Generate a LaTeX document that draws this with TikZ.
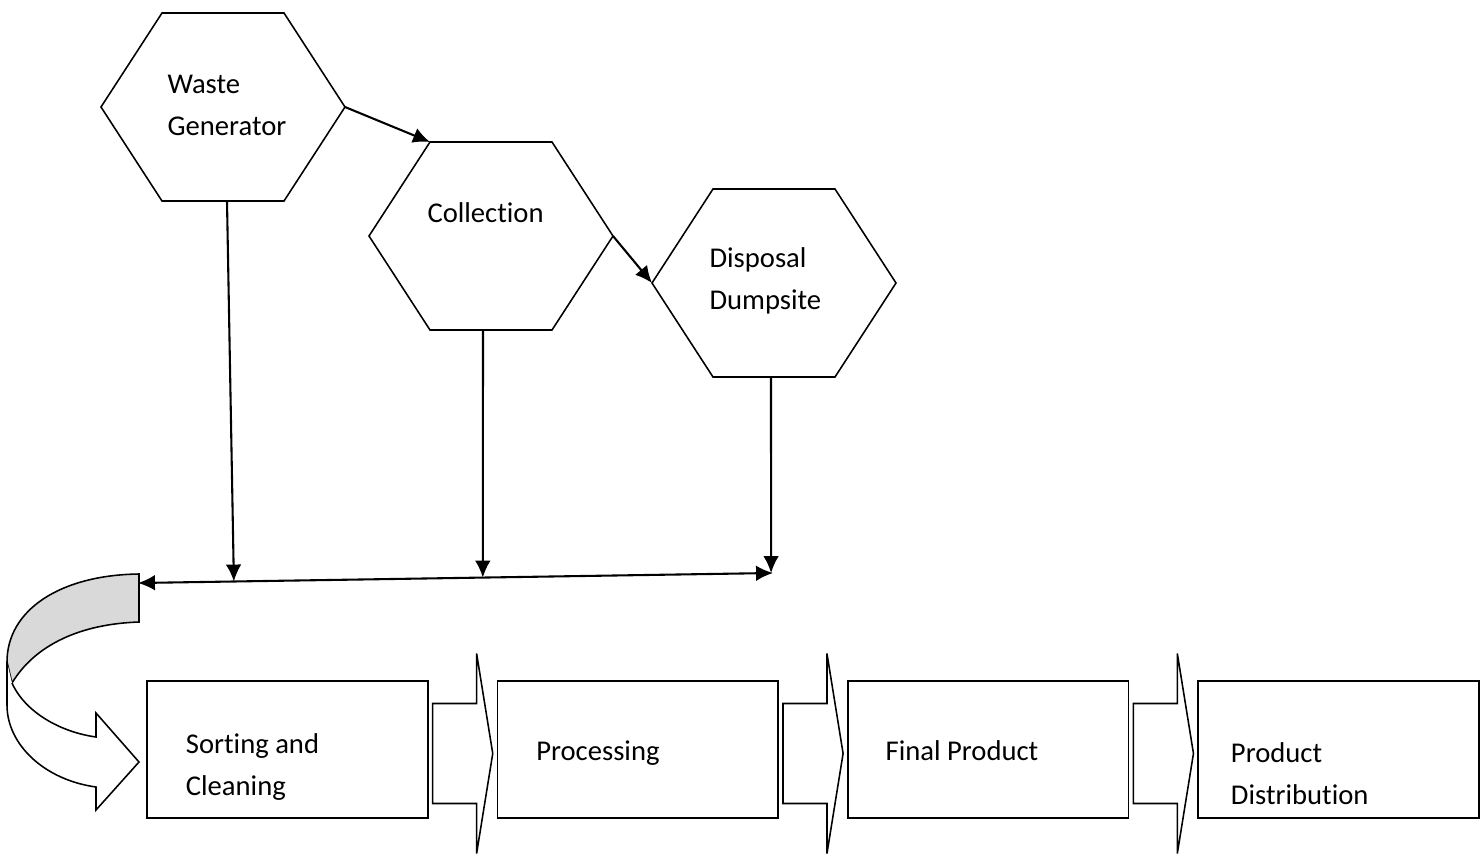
\documentclass[tikz,border=0pt]{standalone}
\usepackage{fontspec}
\setmainfont{Carlito}[Ligatures=NoCommon]
\usetikzlibrary{arrows.meta, calc, positioning}
\definecolor{bandgray}{HTML}{D9D9D9}
\tikzset{
  hexline/.style={line width=0.6pt},
  conn/.style={line width=0.8pt, -{Latex[length=6.5pt,width=6pt]}},
  procbox/.style={draw, line width=0.6pt, minimum width=3.79cm, minimum height=1.85cm, inner sep=0pt},
  lbl/.style={inner sep=0pt, align=left, font=\fontsize{11pt}{16pt}\selectfont},
  blockarrow/.style={draw, fill=white, line width=0.6pt},
  hexa/.pic={
    \draw[hexline] (-122,0) coordinate (-w) -- (-61,-94) coordinate (-tl)
      -- (61,-94) coordinate (-tr) -- (122,0) coordinate (-e)
      -- (61,94) coordinate (-br) -- (-61,94) coordinate (-bl) -- cycle;
    \coordinate (-b) at (0,94);
  }
}

\begin{document}
\begin{tikzpicture}[x=0.0135cm, y=-0.0135cm]
  \useasboundingbox (0,0) rectangle (1484,859);

  % waste stages
  \pic (wg) at (223,107) {hexa};
  \pic (col) at (491,236) {hexa};
  \pic (dis) at (774,283) {hexa};
  \node[lbl, anchor=base west] (wgtext) at (167,135) {Waste\\Generator};
  \node[lbl, anchor=base west] (coltext) at (427,222) {Collection};
  \node[lbl, anchor=base west] (distext) at (709,309) {Disposal\\Dumpsite};

  \draw[conn] (wg-e) -- (col-tl);
  \draw[conn] (col-e) -- (dis-w);

  % collecting line
  \coordinate (hl-w) at (138,583);
  \coordinate (hl-e) at (773,573);
  \draw[conn, {Latex[length=6.5pt,width=6pt]}-{Latex[length=6.5pt,width=6pt]}] (hl-w) -- (hl-e);
  \draw[conn] ($(wg-b)+(4,0)$) -- ($(hl-w)!0.151!(hl-e)$);
  \draw[conn] ($(col-b)+(-8,0)$) -- ($(hl-w)!0.543!(hl-e)$);
  \draw[conn] ($(dis-b)+(-3,0)$) -- ($(hl-w)!0.997!(hl-e)$);

  % u-turn arrow
  \draw[hexline, fill=bandgray] (139,574) .. controls (60,575) and (7,610) .. (7,662)
    -- (12,683) .. controls (35,645) and (80,624) .. (139,622) -- cycle;
  \fill[white] (7,662) -- (7,705) .. controls (7,745) and (45,780) .. (96,787)
    -- (96,810) -- (139,762) -- (96,713) -- (96,737)
    .. controls (60,732) and (25,712) .. (12,683) -- cycle;
  \draw[hexline] (7,662) -- (7,705) .. controls (7,745) and (45,780) .. (96,787)
    -- (96,810) -- (139,762) -- (96,713) -- (96,737)
    .. controls (60,732) and (25,712) .. (12,683);

  % process chain
  \node[procbox] (sort) at (287.5,749.5) {};
  \node[procbox, right=0.92cm of sort] (proc) {};
  \node[procbox, right=0.92cm of proc] (prod) {};
  \node[procbox, right=0.92cm of prod] (dist) {};
  \node[lbl, anchor=base west] (sorttext) at ($(sort.west)+(39,45.5)$) {Sorting and\\Cleaning};
  \node[lbl, anchor=base west] (proctext) at ($(proc.west)+(39,10.5)$) {Processing};
  \node[lbl, anchor=base west] (prodtext) at ($(prod.west)+(38,10.5)$) {Final Product};
  \node[lbl, anchor=base west] (disttext) at ($(dist.west)+(33,55)$) {Product\\Distribution};

  \foreach \a/\b in {sort/proc, proc/prod, prod/dist}
    \draw[blockarrow] ($(\a.east)+(4,-46)$) -- ($(\a.east)+(48,-46)$) -- ($(\a.east)+(48,-96)$)
      -- ($(\b.west)+(-4,4)$) -- ($(\a.east)+(48,104)$) -- ($(\a.east)+(48,54)$)
      -- ($(\a.east)+(4,54)$) -- cycle;
\end{tikzpicture}
\end{document}
